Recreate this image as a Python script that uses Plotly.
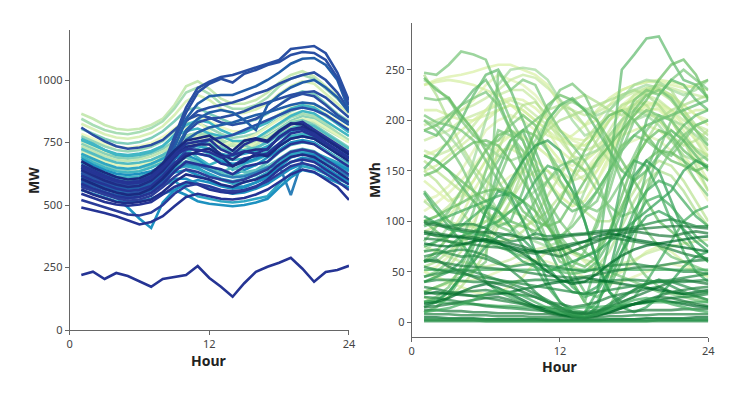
import plotly.graph_objects as go

hours = list(range(1, 25))
x_ticks = [0, 12, 24]
mw_ticks = [0, 250, 500, 750, 1000]
mwh_ticks = [0, 50, 100, 150, 200, 250]

# ---------------- Left panel: MW load profiles ----------------
mw_l01 = [865,845,820,805,800,805,820,845,900,975,995,965,925,905,905,920,950,990,1020,1035,1015,975,935,890]
mw_l02 = [845,820,800,788,783,792,808,835,885,950,970,945,905,885,885,900,930,975,1005,1020,1005,965,925,880]
mw_l03 = [825,805,783,770,765,773,788,815,860,915,940,920,885,865,868,882,905,945,975,995,985,945,905,865]
mw_l04 = [805,785,765,750,745,752,768,795,835,880,890,865,845,825,828,842,865,900,935,955,945,905,865,835]
mw_l05 = [785,765,745,733,728,736,748,772,805,840,858,835,812,795,795,806,835,865,890,905,895,865,835,805]
mw_l06 = [775,755,735,720,714,720,733,755,795,828,828,808,785,768,775,786,815,846,875,895,885,855,825,795]
mw_l07 = [755,735,712,698,694,700,710,735,775,815,835,795,762,742,760,782,812,842,862,875,865,835,805,775]
mw_l08 = [745,725,705,690,685,690,705,725,755,778,788,776,756,745,745,756,776,806,836,856,846,816,786,756]
mw_l09 = [735,715,695,680,676,682,694,714,745,770,780,765,745,735,738,750,770,800,825,840,832,805,778,752]
mw_n06 = [720,700,680,665,660,665,678,700,740,775,790,780,760,740,745,760,790,820,850,865,855,825,790,760]
mw_n10 = [710,690,672,660,655,660,672,695,735,760,770,750,735,755,730,745,770,800,830,845,838,810,780,750]
mw_n02 = [690,670,650,636,630,636,650,680,720,750,740,760,720,745,710,740,770,790,810,820,805,780,750,720]
mw_n01 = [700,680,660,645,640,648,660,690,740,770,760,720,735,700,740,720,760,800,830,840,820,790,760,730]
mw_n09 = [760,740,718,700,695,700,712,735,780,820,840,830,800,780,790,810,830,860,885,900,890,860,825,790]
mw_m01 = [765,745,720,705,700,706,716,736,776,796,806,786,776,756,756,766,796,826,856,876,866,836,806,776]
mw_m02 = [725,705,685,670,665,670,680,700,725,745,755,745,725,715,720,730,750,780,805,825,815,785,755,725]
mw_m03 = [705,685,665,650,645,650,665,685,715,735,735,725,705,695,705,715,735,765,795,805,795,765,735,705]
mw_n03 = [670,650,630,615,610,615,628,655,700,720,690,660,680,640,665,680,700,740,770,780,770,740,715,690]
mw_m04 = [695,670,650,635,630,635,650,670,695,715,725,705,685,680,685,695,715,745,775,785,775,750,720,695]
mw_m05 = [685,660,640,625,620,625,635,655,685,705,705,695,675,665,670,685,705,735,765,775,765,735,705,685]
mw_n04 = [660,640,620,605,600,606,618,645,690,700,680,650,640,620,640,660,690,720,750,760,750,720,690,665]
mw_m06 = [655,635,615,600,595,600,610,630,655,675,665,645,625,615,620,635,655,685,715,725,715,685,665,645]
mw_n05 = [640,620,602,590,586,590,604,630,670,690,670,640,630,650,630,640,670,710,740,750,745,715,690,660]
mw_m07 = [645,625,605,590,585,590,600,620,645,655,645,625,605,595,605,620,645,675,705,715,705,675,655,635]
mw_n07 = [630,610,592,580,575,580,594,620,650,660,650,620,600,585,590,605,630,665,700,715,710,690,670,650]
mw_n08 = [615,598,582,570,565,570,582,605,630,640,620,600,580,570,575,590,615,650,690,705,700,680,660,640]
mw_m08 = [605,590,575,565,560,565,575,590,605,605,585,565,555,545,550,565,585,615,645,665,655,635,615,595]
mw_m09 = [595,580,565,555,550,555,565,580,595,565,535,525,515,510,515,525,535,585,625,655,645,625,605,585]
mw_m10 = [575,560,545,530,490,445,408,510,560,585,600,590,575,565,570,590,610,640,670,690,680,650,620,600]
mw_m11 = [625,605,590,580,575,580,590,610,640,665,660,640,620,610,615,630,650,660,540,680,690,665,640,615]
mw_m12 = [560,545,530,515,510,515,525,545,560,540,515,505,500,495,500,510,525,570,610,640,630,610,590,570]
mw_t01 = [650,630,610,598,592,598,615,655,770,890,968,993,1012,1020,1035,1050,1065,1080,1124,1130,1136,1107,1030,918]
mw_t02 = [640,620,600,588,582,588,605,645,755,870,950,985,1005,990,1025,1040,1060,1072,1100,1112,1108,1080,1010,900]
mw_t03 = [620,600,582,570,565,572,590,630,730,845,905,935,940,940,958,975,1000,1030,1065,1085,1088,1060,1000,880]
mw_t04 = [630,610,590,578,572,578,595,640,740,835,875,890,900,910,925,945,960,985,1005,1020,1030,1000,950,880]
mw_t05 = [610,590,572,560,555,562,580,620,710,800,845,870,880,870,840,800,900,940,970,990,1000,970,930,870]
mw_t06 = [600,580,562,550,545,552,570,610,700,790,830,845,850,860,875,895,910,925,940,950,955,930,890,850]
mw_t07 = [590,570,552,540,535,542,560,600,680,760,790,810,820,830,845,860,870,885,900,910,905,880,850,820]
mw_t08 = [580,560,542,530,525,532,550,590,660,720,740,760,770,780,800,820,840,860,880,890,880,860,830,800]
mw_t09 = [810,780,755,735,725,730,740,760,800,840,860,850,830,820,830,845,870,900,930,945,935,900,860,830]
mw_d01 = [660,638,618,600,590,595,615,655,705,745,752,762,722,702,742,762,752,792,822,832,802,772,742,712]
mw_d02 = [640,618,598,582,572,577,597,637,692,732,742,742,702,682,712,722,722,772,802,812,792,762,732,702]
mw_d03 = [618,598,582,566,556,561,576,616,666,706,706,696,666,656,686,696,706,746,786,796,776,746,716,686]
mw_d04 = [605,585,565,550,540,545,565,605,655,695,715,725,695,655,675,705,695,735,765,775,765,735,705,675]
mw_d05 = [585,565,550,535,528,533,548,583,633,673,663,653,643,623,653,663,673,713,743,753,743,713,683,653]
mw_d06 = [572,557,542,527,517,522,537,572,612,642,632,612,602,592,602,622,642,682,712,722,712,682,652,622]
mw_d07 = [562,542,527,512,507,512,522,552,592,622,612,602,582,572,592,602,622,662,692,702,692,662,632,602]
mw_d08 = [545,528,512,502,497,502,512,542,572,592,582,562,552,547,557,572,602,642,672,682,672,642,612,582]
mw_d09 = [520,505,490,475,462,458,470,500,545,575,585,575,560,555,560,575,595,625,655,668,655,625,595,560]
mw_d10 = [490,480,468,455,440,422,432,455,495,532,545,535,525,522,528,542,562,592,622,642,632,602,572,520]
mw_d11 = [675,650,630,612,602,607,627,667,717,757,767,777,747,717,757,767,757,797,827,822,792,762,732,702]
mw_d12 = [650,628,610,595,585,590,608,648,698,725,720,712,690,700,715,705,725,770,800,805,785,750,720,690]
mw_o01 = [220,233,204,228,216,193,173,204,213,220,256,208,173,133,187,233,253,269,289,245,193,232,240,257]

mw_series = [
    mw_l01, mw_l02, mw_l03, mw_l04, mw_l05, mw_l06, mw_l07, mw_l08, mw_l09,
    mw_n06, mw_n10, mw_n02, mw_n01, mw_n09,
    mw_m01, mw_m02, mw_m03, mw_n03, mw_m04, mw_m05, mw_n04, mw_m06, mw_n05,
    mw_m07, mw_n07, mw_n08, mw_m08, mw_m09, mw_m10, mw_m11, mw_m12,
    mw_t09, mw_t08, mw_t07, mw_t06, mw_t05, mw_t04, mw_t03, mw_t02, mw_t01,
    mw_d01, mw_d02, mw_d03, mw_d04, mw_d05, mw_d06, mw_d07, mw_d08, mw_d09,
    mw_d10, mw_d11, mw_d12, mw_o01,
]
mw_colors = [
    "#c7e9b4", "#a8ddb5", "#d9f0b8", "#7fcdbb", "#edf8c4", "#99d6b9", "#e3f4bd", "#8ad1b9", "#c0e6b5",
    "#a8ddb5", "#e3f4bd", "#c7e9b4", "#7fcdbb", "#41b6c4",
    "#41b6c4", "#52bcc2", "#2fa6c3", "#41b6c4", "#41b6c4", "#1d91c0", "#1d91c0", "#5fc1c0", "#5fc1c0",
    "#2fa6c3", "#2fa6c3", "#1d91c0", "#1d91c0", "#2fa6c3", "#1d91c0", "#2c7fb8", "#1d91c0",
    "#2a4fa3", "#2850a8", "#225ea8", "#2a4fa3", "#225ea8", "#2a4fa3", "#225ea8", "#2a4fa3", "#2a4fa3",
    "#253494", "#1f2d86", "#253494", "#1a2a80", "#253494", "#2c3e99", "#1f2d86", "#253494", "#2a3c9a",
    "#253494", "#1a2a80", "#253494", "#253494",
]

# ---------------- Right panel: MWh profiles ----------------
mwh_p01 = [235,240,243,245,248,252,255,255,250,245,235,215,205,195,200,215,230,235,238,238,235,232,235,240]
mwh_p02 = [190,195,200,210,220,235,245,240,235,225,210,190,180,175,185,200,215,225,230,230,225,215,205,200]
mwh_p03 = [170,165,170,180,195,210,225,230,230,220,200,180,165,160,170,190,210,225,232,230,220,205,190,180]
mwh_p04 = [150,155,165,175,185,200,210,215,210,200,190,170,160,150,160,180,200,210,215,218,210,195,180,165]
mwh_p05 = [140,130,120,125,140,160,175,185,190,185,175,160,150,140,150,170,190,205,215,215,205,190,170,150]
mwh_p06 = [120,125,135,150,170,190,200,205,200,190,175,160,150,150,165,185,200,210,212,210,200,185,165,150]
mwh_p07 = [100,105,115,130,150,170,185,190,185,175,165,150,140,145,160,175,195,210,225,228,220,205,180,160]
mwh_p08 = [90,95,105,120,140,160,170,172,165,155,140,125,115,120,140,165,185,200,210,212,200,180,160,140]
mwh_p09 = [60,70,85,105,130,150,165,175,170,160,150,135,125,130,150,170,185,190,195,190,180,165,150,130]
mwh_p10 = [50,55,65,80,100,120,135,145,150,145,135,125,115,120,140,160,175,180,185,180,170,155,140,120]
mwh_p11 = [180,185,190,200,205,210,215,220,215,205,195,185,175,170,175,185,200,215,225,220,210,200,195,190]
mwh_p12 = [210,210,205,200,200,205,210,215,210,200,190,180,175,175,185,200,210,215,218,215,210,205,210,210]
mwh_p13 = [50,45,40,35,30,28,30,35,45,60,70,75,70,60,50,45,50,60,70,75,70,60,50,45]
mwh_p14 = [30,35,38,40,42,45,50,55,60,62,60,55,50,45,40,38,40,45,50,55,58,55,50,45]
mwh_p15 = [75,70,65,60,58,55,58,62,68,72,75,72,68,62,58,55,58,62,68,72,75,78,80,82]
mwh_p16 = [235,238,240,238,235,230,225,215,205,195,185,180,185,195,210,222,230,235,238,240,238,235,232,230]
mwh_p17 = [165,170,178,190,200,210,218,222,220,212,200,190,182,180,188,200,212,222,228,230,225,215,205,195]
mwh_p18 = [110,118,128,140,155,170,180,185,183,175,165,158,155,160,170,185,198,208,215,215,208,196,182,170]
mwh_p19 = [195,200,205,210,215,222,230,240,245,242,232,220,210,205,208,215,222,228,232,235,232,228,225,222]
mwh_q01 = [245,225,200,175,155,140,130,135,150,170,195,210,220,225,218,210,205,215,228,235,230,210,195,185]
mwh_q02 = [70,80,95,120,160,200,235,250,252,250,240,220,200,185,190,210,225,230,235,232,220,205,190,180]
mwh_q03 = [40,45,55,70,95,130,170,200,215,218,205,185,165,150,155,175,200,220,230,232,225,210,190,170]
mwh_q04 = [30,35,40,50,60,80,100,120,150,175,190,200,205,210,215,220,225,230,225,215,200,180,155,130]
mwh_q05 = [200,195,185,170,150,130,110,95,85,80,75,80,100,130,160,185,200,210,205,195,180,165,160,165]
mwh_q06 = [160,150,140,130,120,110,100,95,95,100,110,125,140,160,180,200,215,220,215,200,185,175,180,190]
mwh_q07 = [120,110,100,95,95,100,110,130,160,190,210,215,210,195,175,160,150,160,180,200,210,215,220,225]
mwh_q08 = [90,85,80,80,85,90,100,110,120,130,140,150,160,165,170,180,190,200,205,205,200,195,185,175]
mwh_q09 = [25,20,25,35,50,70,95,120,140,150,150,140,125,110,100,100,110,130,150,160,155,140,120,100]
mwh_q10 = [55,60,70,80,90,100,105,110,105,95,80,65,55,50,55,70,95,120,140,150,145,130,110,95]
mwh_q11 = [240,232,220,205,190,175,165,160,165,180,200,215,218,212,205,210,222,235,240,238,230,225,230,240]
mwh_q12 = [150,140,125,110,95,85,80,82,90,105,125,145,165,180,195,205,210,212,208,200,190,180,172,165]
mwh_v01 = [247,245,255,268,265,260,230,200,180,150,120,100,85,70,60,50,45,40,35,30,28,25,22,20]
mwh_v02 = [190,185,200,215,230,240,220,190,160,130,100,70,40,20,60,150,250,265,281,283,260,240,235,222]
mwh_v03 = [222,220,222,200,185,175,180,195,205,195,170,140,120,110,120,150,190,220,230,225,240,250,240,230]
mwh_v04 = [242,230,222,205,190,170,150,130,110,100,95,100,120,140,160,175,190,205,220,240,255,260,245,220]
mwh_v05 = [205,198,195,190,180,160,140,120,100,85,80,85,95,110,130,150,175,185,180,170,165,180,195,200]
mwh_v06 = [152,165,180,200,225,245,250,230,200,170,140,120,110,115,130,150,170,185,195,200,205,210,215,220]
mwh_v07 = [30,35,40,45,50,60,248,230,240,235,210,190,175,160,140,110,80,60,45,35,30,28,25,22]
mwh_v08 = [100,90,80,75,80,90,110,135,160,190,215,225,220,210,200,180,160,140,120,100,90,80,70,60]
mwh_v09 = [20,25,35,55,80,110,140,170,190,200,210,230,236,225,200,170,140,110,90,75,65,60,55,50]
mwh_v10 = [130,115,100,90,85,80,75,70,65,60,55,50,48,50,60,80,110,150,200,225,240,235,220,210]
mwh_v11 = [60,70,85,100,120,140,160,180,190,185,170,150,130,115,110,120,140,165,190,205,200,185,170,160]
mwh_v12 = [165,160,150,140,130,120,110,100,95,90,100,120,145,170,190,205,210,200,185,170,160,155,150,155]
mwh_v13 = [80,95,110,130,150,170,185,190,180,150,110,70,40,20,10,15,40,80,130,170,200,220,235,240]
mwh_v14 = [10,15,25,45,75,110,150,180,190,160,120,80,50,30,25,35,60,100,150,180,190,180,165,150]
mwh_v15 = [200,190,175,155,130,110,95,90,100,120,140,155,160,150,130,115,105,110,130,150,170,185,195,200]
mwh_v16 = [145,150,160,170,178,180,175,160,140,120,95,75,60,55,65,90,125,160,180,190,185,170,160,155]
mwh_v17 = [190,195,205,215,222,228,215,190,150,110,80,60,55,70,100,140,180,210,225,230,222,205,190,175]
mwh_v18 = [165,160,150,135,120,105,95,100,130,170,200,215,222,210,190,170,150,140,150,165,180,195,205,210]
mwh_v19 = [45,50,60,80,110,150,190,185,170,140,110,85,70,75,95,130,170,200,210,205,185,160,140,125]
mwh_v20 = [100,105,112,118,125,130,132,128,120,110,95,80,70,65,72,90,115,140,160,170,168,160,150,140]
mwh_w01 = [128,110,95,80,60,40,30,25,20,15,10,8,5,10,30,80,140,160,155,130,100,70,50,40]
mwh_w02 = [105,98,92,90,88,86,80,70,60,55,50,55,60,65,70,80,90,100,110,120,130,150,160,153]
mwh_w03 = [60,65,75,85,90,95,100,110,120,140,155,150,130,100,60,30,20,25,40,60,80,100,110,115]
mwh_w04 = [40,45,50,60,80,110,130,125,100,70,40,20,10,5,15,50,100,145,160,150,120,90,70,60]
mwh_w05 = [95,100,105,110,115,120,125,128,120,100,75,50,35,25,30,50,80,110,130,140,135,120,105,95]
mwh_w06 = [20,22,30,45,65,90,115,140,160,175,180,170,140,100,60,30,15,10,15,25,40,55,65,70]
mwh_w07 = [75,80,85,95,105,115,110,95,75,55,35,20,12,10,20,40,70,100,120,125,115,100,85,75]
mwh_w08 = [15,20,30,45,60,75,85,88,82,70,55,40,30,28,35,50,70,90,105,110,104,92,80,70]
mwh_f01 = [100,98,95,97,97,93,85,80,82,88,85,86,87,88,90,91,92,94,97,100,102,99,95,95]
mwh_f02 = [90,88,86,85,84,82,80,78,75,70,68,65,70,75,80,85,88,90,88,86,85,88,90,88]
mwh_f03 = [83,82,80,78,77,75,74,72,70,68,72,75,78,80,82,84,82,80,78,76,72,68,65,63]
mwh_f04 = [78,76,75,77,80,82,78,75,72,70,70,72,76,80,85,88,86,82,80,78,76,74,72,70]
mwh_f05 = [52,52,52,52,52,52,52,52,52,52,52,52,52,52,52,52,52,52,52,52,52,52,52,52]
mwh_f06 = [70,72,68,65,66,63,58,55,57,58,56,54,52,50,53,56,57,58,56,54,52,50,50,48]
mwh_f07 = [40,42,42,41,40,40,39,40,41,42,42,41,40,40,40,41,42,42,41,40,40,40,41,42]
mwh_f08 = [60,62,55,50,45,40,38,35,30,25,20,15,10,8,10,15,20,25,30,35,40,42,40,38]
mwh_f09 = [30,28,29,30,31,32,30,28,27,25,20,18,15,17,20,25,28,30,33,35,30,28,28,30]
mwh_f10 = [28,30,28,27,26,27,28,30,33,35,38,40,42,44,42,40,38,36,34,32,30,28,30,32]
mwh_f11 = [20,20,19,18,18,17,16,16,15,15,15,14,14,15,15,16,17,18,19,20,20,20,20,20]
mwh_f12 = [45,48,50,52,50,46,42,38,34,28,22,15,8,5,10,18,26,32,38,42,36,30,26,22]
mwh_f13 = [25,24,22,20,18,16,15,14,13,12,11,10,9,10,12,14,16,18,20,22,24,25,26,28]
mwh_f14 = [12,12,11,11,10,10,9,9,9,8,8,7,7,8,8,9,10,11,12,12,12,13,13,13]
mwh_f15 = [8,8,8,7,7,7,6,6,6,5,5,5,5,5,5,6,6,7,7,8,8,8,8,8]
mwh_f16 = [5,5,4,4,4,3,3,3,3,3,2,2,2,2,2,3,3,3,4,4,4,4,5,5]
mwh_f17 = [2,2,2,2,2,1,1,1,1,1,1,1,1,1,1,1,1,1,1,2,2,2,2,2]
mwh_f18 = [1,1,1,1,1,1,1,1,1,1,1,1,1,1,1,1,1,1,1,1,1,1,1,1]
mwh_f19 = [3,3,3,3,3,3,3,3,3,3,3,3,3,3,3,3,3,3,3,3,3,3,3,3]
mwh_f20 = [15,16,18,20,22,24,25,22,18,14,10,7,5,4,6,10,14,18,22,25,24,21,18,16]
mwh_f21 = [35,33,30,28,26,24,22,20,18,16,14,12,10,9,10,12,15,18,22,26,30,32,34,35]
mwh_f22 = [18,20,24,30,35,38,34,28,22,16,12,8,6,5,7,10,14,18,20,22,20,18,16,15]
mwh_f23 = [10,12,14,18,22,28,32,30,26,20,14,10,7,6,8,12,18,22,24,22,18,15,12,10]
mwh_f24 = [65,68,70,72,70,66,60,52,42,30,20,12,6,4,8,15,24,32,38,42,40,36,32,30]
mwh_f25 = [55,52,50,48,46,44,42,40,38,36,34,32,30,28,30,32,34,36,38,40,42,44,46,48]
mwh_f26 = [98,96,94,92,90,89,88,86,84,83,82,84,86,87,88,90,91,92,93,94,95,95,94,93]
mwh_f27 = [62,60,58,56,55,54,53,52,50,48,46,45,44,45,47,50,52,54,55,56,58,60,61,62]
mwh_f28 = [88,86,85,84,82,80,78,74,68,60,50,42,38,40,48,58,66,72,76,78,80,82,84,85]

mwh_pale = [mwh_p01, mwh_p02, mwh_p03, mwh_p04, mwh_p05, mwh_p06, mwh_p07, mwh_p08, mwh_p09, mwh_p10,
            mwh_p11, mwh_p12, mwh_p13, mwh_p14, mwh_p15, mwh_p16, mwh_p17, mwh_p18, mwh_p19]
mwh_light = [mwh_q01, mwh_q02, mwh_q03, mwh_q04, mwh_q05, mwh_q06, mwh_q07, mwh_q08, mwh_q09, mwh_q10,
             mwh_q11, mwh_q12]
mwh_mid = [mwh_v01, mwh_v02, mwh_v03, mwh_v04, mwh_v05, mwh_v06, mwh_v07, mwh_v08, mwh_v09, mwh_v10,
           mwh_v11, mwh_v12, mwh_v13, mwh_v14, mwh_v15, mwh_v16, mwh_v17, mwh_v18, mwh_v19, mwh_v20]
mwh_middark = [mwh_w01, mwh_w02, mwh_w03, mwh_w04, mwh_w05, mwh_w06, mwh_w07, mwh_w08]
mwh_dark = [mwh_f01, mwh_f02, mwh_f03, mwh_f04, mwh_f05, mwh_f06, mwh_f07, mwh_f08, mwh_f09, mwh_f10,
            mwh_f11, mwh_f12, mwh_f13, mwh_f14, mwh_f15, mwh_f16, mwh_f17, mwh_f18, mwh_f19, mwh_f20,
            mwh_f21, mwh_f22, mwh_f23, mwh_f24, mwh_f25, mwh_f26, mwh_f27, mwh_f28]

pale_cols = ["#d9f0a3", "#e0f3b2", "#c7e9a0", "#d4eea0"]
light_cols = ["#addd8e", "#a1d99b", "#b8e290"]
mid_cols = ["#74c476", "#5db96b", "#78c679", "#66bd63"]
middark_cols = ["#41ab5d", "#2f9e55"]
dark_cols = ["#238b45", "#1e7b3e", "#238443", "#006d2c", "#41ab5d", "#2a8f4a"]

fig = go.Figure()

for s, c in zip(mw_series, mw_colors):
    fig.add_trace(go.Scatter(x=hours, y=s, mode="lines", line=dict(color=c, width=2.6),
                             xaxis="x", yaxis="y", hoverinfo="skip", showlegend=False))

groups = [(mwh_pale, pale_cols), (mwh_light, light_cols), (mwh_mid, mid_cols),
          (mwh_middark, middark_cols), (mwh_dark, dark_cols)]
for series, cols in groups:
    for i, s in enumerate(series):
        fig.add_trace(go.Scatter(x=hours, y=s, mode="lines",
                                 line=dict(color=cols[i % len(cols)], width=2.6),
                                 opacity=0.7, xaxis="x2", yaxis="y2",
                                 hoverinfo="skip", showlegend=False))

tick_font = dict(family="Noto Sans, Open Sans, sans-serif", size=11, color="#444")
axis_common = dict(showgrid=False, zeroline=False, showline=True, linecolor="#666",
                   linewidth=1, ticks="outside", ticklen=4, tickcolor="#666",
                   tickfont=tick_font, automargin=False)

# The page body adds an 8px offset, so domains are computed in figure space.
fig.update_layout(
    width=736, height=395,
    margin=dict(l=0, r=0, t=0, b=0, autoexpand=False),
    paper_bgcolor="white", plot_bgcolor="white",
    xaxis=dict(domain=[0.0838, 0.4633], range=[0, 24], tickvals=x_ticks, anchor="y", **axis_common),
    yaxis=dict(domain=[0.1848, 0.9443], range=[0, 1200], tickvals=mw_ticks, anchor="x", **axis_common),
    xaxis2=dict(domain=[0.5485, 0.9515], range=[0, 24], tickvals=x_ticks, anchor="y2", **axis_common),
    yaxis2=dict(domain=[0.1678, 0.9613], range=[-14.3, 296], tickvals=mwh_ticks, anchor="x2", **axis_common),
)

title_font = dict(family="Noto Sans, Open Sans, sans-serif", size=14, color="#222")
for txt, xp, yp, ang in [("<b>Hour</b>", 0.2735, 0.1064, 0), ("<b>Hour</b>", 0.7500, 0.0912, 0),
                         ("<b>MW</b>", 0.0340, 0.5620, -90), ("<b>MWh</b>", 0.4986, 0.5646, -90)]:
    fig.add_annotation(text=txt, x=xp, y=yp, xref="paper", yref="paper", showarrow=False,
                       textangle=ang, font=title_font, xanchor="center", yanchor="middle")

fig.write_html("out.html")
